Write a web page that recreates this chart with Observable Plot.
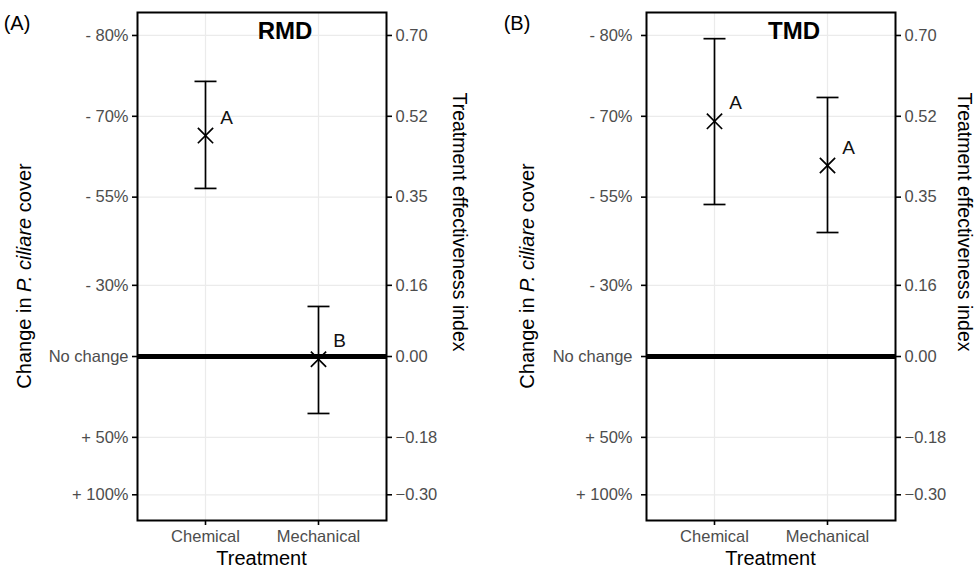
<!DOCTYPE html>
<html>
<head>
<meta charset="utf-8">
<script src="https://cdn.jsdelivr.net/npm/d3@7"></script>
<script src="https://cdn.jsdelivr.net/npm/@observablehq/plot@0.6"></script>
<style>
  body { margin: 0; background: #fff; }
  #wrap { position: relative; width: 977px; height: 570px; overflow: hidden; }
  .panel { position: absolute; top: 0; }
</style>
</head>
<body>
<div id="wrap"></div>
<script>
// ---- data ----
const treatments = ["Chemical", "Mechanical"];

const rmdMean = [0.481, -0.006];
const rmdLow = [0.366, -0.124];
const rmdHigh = [0.599, 0.109];
const rmdGroup = ["A", "B"];

const tmdMean = [0.512, 0.416];
const tmdLow = [0.331, 0.270];
const tmdHigh = [0.692, 0.564];
const tmdGroup = ["A", "A"];

const tickValues = [0.699, 0.523, 0.347, 0.155, 0, -0.176, -0.301];
const leftLabels = ["- 80%", "- 70%", "- 55%", "- 30%", "No change", "+ 50%", "+ 100%"];
const rightLabels = ["0.70", "0.52", "0.35", "0.16", "0.00", "\u22120.18", "\u22120.30"];

const panelTitles = ["RMD", "TMD"];
const panelTags = ["(A)", "(B)"];

// ---- drawing ----
const FONT = "'Liberation Sans', Arial, Helvetica, sans-serif";
const leftMap = new Map(tickValues.map((v, i) => [v, leftLabels[i]]));
const rightMap = new Map(tickValues.map((v, i) => [v, rightLabels[i]]));
const capSymbol = {
  draw(ctx, size) {
    const r = Math.sqrt(size / Math.PI);
    ctx.moveTo(-r, 0);
    ctx.lineTo(r, 0);
  }
};

function makePanel(cfg) {
  const rows = treatments.map((t, i) => ({
    treatment: t, mean: cfg.mean[i], low: cfg.low[i], high: cfg.high[i], group: cfg.group[i]
  }));
  const W = cfg.width, H = 570;
  const plot = Plot.plot({
    width: W,
    height: H,
    marginLeft: cfg.ml,
    marginRight: cfg.mr,
    marginTop: 12,
    marginBottom: 50,
    style: { fontFamily: FONT, background: "white", overflow: "visible" },
    x: { type: "point", domain: treatments, padding: 0.6 },
    y: { domain: [-0.357, 0.749] },
    marks: [
      Plot.gridY(tickValues, { stroke: "#ebebeb", strokeOpacity: 1, strokeWidth: 1.2 }),
      Plot.gridX(treatments, { stroke: "#ebebeb", strokeOpacity: 1, strokeWidth: 1.2 }),
      Plot.ruleY([0], { stroke: "black", strokeWidth: 5 }),
      Plot.ruleX(rows, { x: "treatment", y1: "low", y2: "high", stroke: "black", strokeWidth: 1.7 }),
      Plot.dot(rows, { x: "treatment", y: "low", symbol: capSymbol, r: 11, stroke: "black", strokeWidth: 1.7, fill: "none" }),
      Plot.dot(rows, { x: "treatment", y: "high", symbol: capSymbol, r: 11, stroke: "black", strokeWidth: 1.7, fill: "none" }),
      Plot.dot(rows, { x: "treatment", y: "mean", symbol: "times", r: 7, stroke: "black", strokeWidth: 1.7 }),
      Plot.text(rows, { x: "treatment", y: "mean", text: "group", dx: 21, dy: -18, fontSize: 19, fill: "#111" }),
      Plot.text([cfg.title], { frameAnchor: "top", lineAnchor: "bottom", dx: 23, dy: 26, fontSize: 24, fontWeight: "bold", fill: "black" }),
      Plot.frame({ stroke: "black", strokeWidth: 2 }),
      Plot.axisY(tickValues, { anchor: "left", tickFormat: d => leftMap.get(d), tickSize: 5, tickPadding: cfg.lpad, fontSize: 16.5, fill: "#4d4d4d", stroke: "black", strokeWidth: 1.6, label: null }),
      Plot.axisY(tickValues, { anchor: "right", tickFormat: d => rightMap.get(d), tickSize: 5, tickPadding: 4, fontSize: 16.5, fill: "#4d4d4d", stroke: "black", strokeWidth: 1.6, label: null }),
      Plot.axisX(treatments, { anchor: "bottom", tickSize: 5, tickPadding: 5, fontSize: 16.5, fill: "#4d4d4d", stroke: "black", strokeWidth: 1.6, label: null })
    ]
  });

  const svg = d3.select(plot);
  // panel tag
  svg.append("text").attr("x", 17).attr("y", 30)
    .attr("font-size", 20).attr("font-family", FONT).attr("fill", "black").text(cfg.tag);
  // left title with italic species name
  const lt = svg.append("text")
    .attr("transform", `translate(${cfg.ltx},276) rotate(-90)`)
    .attr("text-anchor", "middle").attr("dominant-baseline", "central")
    .attr("font-size", 20).attr("font-family", FONT).attr("fill", "black");
  lt.append("tspan").text("Change in ");
  lt.append("tspan").attr("font-style", "italic").text("P. ciliare");
  lt.append("tspan").text(" cover");
  // right title
  svg.append("text")
    .attr("transform", `translate(${cfg.rtx},222) rotate(90)`)
    .attr("text-anchor", "middle").attr("dominant-baseline", "central")
    .attr("font-size", 19.5).attr("font-family", FONT).attr("fill", "black")
    .text("Treatment effectiveness index");
  // x title
  const cx = cfg.ml + (W - cfg.ml - cfg.mr) / 2;
  svg.append("text").attr("x", cx).attr("y", 565)
    .attr("text-anchor", "middle")
    .attr("font-size", 20).attr("font-family", FONT).attr("fill", "black")
    .text("Treatment");

  const div = document.createElement("div");
  div.className = "panel";
  div.style.left = cfg.left + "px";
  div.appendChild(plot);
  document.getElementById("wrap").appendChild(div);
}

makePanel({ left: 0, width: 500, ml: 137, mr: 114, lpad: 4, ltx: 24, rtx: 460,
  mean: rmdMean, low: rmdLow, high: rmdHigh, group: rmdGroup, title: panelTitles[0], tag: panelTags[0] });
makePanel({ left: 500, width: 477, ml: 146, mr: 82, lpad: 9, ltx: 27, rtx: 465,
  mean: tmdMean, low: tmdLow, high: tmdHigh, group: tmdGroup, title: panelTitles[1], tag: panelTags[1] });
</script>
</body>
</html>
